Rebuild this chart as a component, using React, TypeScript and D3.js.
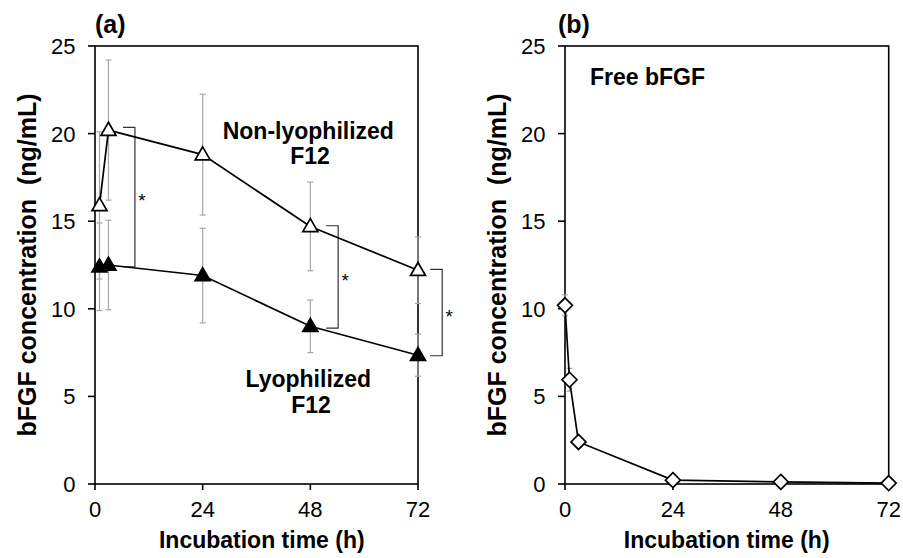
import React from "react";
import * as d3 from "d3";

// ---- Data ----
const timesA = [1, 3, 24, 48, 72];
const nonLyo = [15.9, 20.2, 18.8, 14.7, 12.2];
const nonLyoErr = [4.2, 4.0, 3.45, 2.53, 1.9];
const lyo = [12.4, 12.5, 11.9, 9.0, 7.35];
const lyoErr = [2.5, 2.55, 2.7, 1.5, 1.2];

const timesB = [0, 1, 3, 24, 48, 72];
const freeB = [10.2, 5.95, 2.4, 0.22, 0.12, 0.05];
const freeErr = [0.6, 0.65, 0.2, 0.05, 0.05, 0.03];

// significance brackets (vertical line time, top value, bottom value)
const bracketT = [8.9, 54.2, 77.4];
const bracketTop = [20.35, 14.74, 12.25];
const bracketBottom = [12.4, 8.9, 7.32];

const xTicks = [0, 24, 48, 72];
const yTicks = [0, 5, 10, 15, 20, 25];

const FONT = "Arial, 'Liberation Sans', sans-serif";

function triPath(cx: number, cy: number, w: number, h: number) {
  return `M${cx},${cy - h * 0.6}L${cx + w / 2},${cy + h * 0.4}L${cx - w / 2},${cy + h * 0.4}Z`;
}
function diaPath(cx: number, cy: number, r: number) {
  return `M${cx},${cy - r}L${cx + r},${cy}L${cx},${cy + r}L${cx - r},${cy}Z`;
}

function Axes({ x, y, left, right, top, bottom, titleX }: any) {
  return (
    <g>
      <rect x={left} y={top} width={right - left} height={bottom - top} fill="none" stroke="#000" strokeWidth={1.6} />
      {yTicks.map((t) => (
        <g key={"y" + t}>
          <line x1={left - 7} x2={left} y1={y(t)} y2={y(t)} stroke="#000" strokeWidth={1.6} />
          <text x={left - 19.5} y={y(t) + 8} textAnchor="end" fontSize={22} fontFamily={FONT} fill="#000">{t}</text>
        </g>
      ))}
      {xTicks.map((t) => (
        <g key={"x" + t}>
          <line x1={x(t)} x2={x(t)} y1={bottom} y2={bottom + 6} stroke="#000" strokeWidth={1.6} />
          <text x={x(t)} y={517} textAnchor="middle" fontSize={22} fontFamily={FONT} fill="#000">{t}</text>
        </g>
      ))}
      <text x={titleX} y={548} textAnchor="middle" fontSize={23} fontWeight="bold" fontFamily={FONT} fill="#000">Incubation time (h)</text>
      <text transform={`translate(${left - 59},${265}) rotate(-90)`} textAnchor="middle" fontSize={25} fontWeight="bold" fontFamily={FONT} fill="#000" style={{ whiteSpace: "pre" }}>{"bFGF concentration\u00a0\u00a0(ng/mL)"}</text>
    </g>
  );
}

function ErrBars({ x, y, ts, vs, es }: any) {
  return (
    <g stroke="#a6a6a6" strokeWidth={1.2}>
      {ts.map((t: number, i: number) => (
        <g key={i}>
          <line x1={x(t)} x2={x(t)} y1={y(vs[i] - es[i])} y2={y(vs[i] + es[i])} />
          <line x1={x(t) - 3} x2={x(t) + 3} y1={y(vs[i] - es[i])} y2={y(vs[i] - es[i])} />
          <line x1={x(t) - 3} x2={x(t) + 3} y1={y(vs[i] + es[i])} y2={y(vs[i] + es[i])} />
        </g>
      ))}
    </g>
  );
}

export default function App() {
  const top = 46, bottom = 484;
  const y = d3.scaleLinear().domain([0, 25]).range([bottom, top]);
  const xa = d3.scaleLinear().domain([0, 72]).range([95, 418]);
  const xb = d3.scaleLinear().domain([0, 72]).range([565, 888.7]);

  const lineA = d3.line<number>().x((_, i) => xa(timesA[i])).y((v) => y(v));
  const lineB = d3.line<number>().x((_, i) => xb(timesB[i])).y((v) => y(v));

  return (
    <svg width={903} height={558} style={{ position: "absolute", left: 0, top: 0, background: "#fff" }}>
      <rect width={903} height={558} fill="#fff" />
      {/* Panel a */}
      <Axes x={xa} y={y} left={95} right={418} top={top} bottom={bottom} titleX={261.8} />
      <text x={95} y={33} fontSize={25} fontWeight="bold" fontFamily={FONT}>(a)</text>
      <ErrBars x={xa} y={y} ts={timesA} vs={nonLyo} es={nonLyoErr} />
      <ErrBars x={xa} y={y} ts={timesA} vs={lyo} es={lyoErr} />
      {bracketT.map((t, i) => {
        const bx = xa(t);
        const star = (y(bracketTop[i]) + y(bracketBottom[i])) / 2;
        return (
          <g key={i}>
            <path d={`M${bx - 12},${y(bracketTop[i])}H${bx}V${y(bracketBottom[i])}H${bx - 12}`} fill="none" stroke="#333" strokeWidth={1.2} />
            <text x={bx + 7} y={star + 10} fontSize={19} fontFamily={FONT} textAnchor="middle">*</text>
          </g>
        );
      })}
      <path d={lineA(nonLyo) || ""} fill="none" stroke="#000" strokeWidth={1.7} />
      <path d={lineA(lyo) || ""} fill="none" stroke="#000" strokeWidth={1.7} />
      {timesA.map((t, i) => (
        <path key={"n" + i} d={triPath(xa(t), y(nonLyo[i]), 15, 13)} fill="#fff" stroke="#000" strokeWidth={1.7} />
      ))}
      {timesA.map((t, i) => (
        <path key={"l" + i} d={triPath(xa(t), y(lyo[i]), 15, 13)} fill="#000" stroke="#000" strokeWidth={1.7} />
      ))}
      <text x={308.3} y={139.3} textAnchor="middle" fontSize={23} fontWeight="bold" fontFamily={FONT}>Non-lyophilized</text>
      <text x={310} y={164} textAnchor="middle" fontSize={23} fontWeight="bold" fontFamily={FONT}>F12</text>
      <text x={308.3} y={386.7} textAnchor="middle" fontSize={23} fontWeight="bold" fontFamily={FONT}>Lyophilized</text>
      <text x={311} y={413.3} textAnchor="middle" fontSize={23} fontWeight="bold" fontFamily={FONT}>F12</text>

      {/* Panel b */}
      <Axes x={xb} y={y} left={565} right={888.7} top={top} bottom={bottom} titleX={726.7} />
      <text x={558} y={33} fontSize={25} fontWeight="bold" fontFamily={FONT}>(b)</text>
      <text x={590} y={85} fontSize={23} fontWeight="bold" fontFamily={FONT}>Free bFGF</text>
      <ErrBars x={xb} y={y} ts={timesB} vs={freeB} es={freeErr} />
      <path d={lineB(freeB) || ""} fill="none" stroke="#000" strokeWidth={1.7} />
      {timesB.map((t, i) => (
        <path key={"b" + i} d={diaPath(xb(t), y(freeB[i]), 7.5)} fill="#fff" stroke="#000" strokeWidth={1.7} />
      ))}
    </svg>
  );
}
